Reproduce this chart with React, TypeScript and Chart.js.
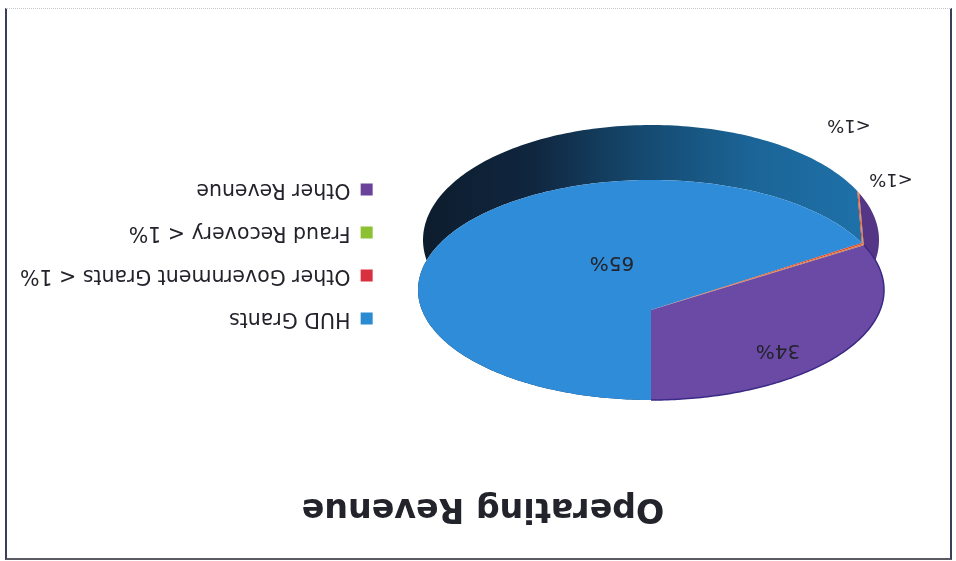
import React, { useEffect, useRef } from "react";
import { Chart, registerables } from "chart.js";

Chart.register(...registerables);

const categories = ["HUD Grants", "Other Government Grants < 1%", "Fraud Recovery < 1%", "Other Revenue"];
const values = [65, 0.15, 0.15, 34];
const valueLabels = ["65%", "<1%", "<1%", "34%"];
const legendColors = ["#2A8AD2", "#D9303F", "#8CC132", "#6A429C"];
const faceColors = ["#2F8CD8", "#E2482E", "#D9803A", "#6A4AA4"];

const FONT = "'DejaVu Sans', sans-serif";
const TEXT = "#23232b";
const labelSpots = [
  [344, 299, 20],
  [65, 382, 18],
  [107, 436, 18],
  [178, 211, 20],
];
const top3d = { cx: 305, cy: 271, rx: 233, ry: 110, apexY: 251 };
const base3d = { cx: 305, cy: 321, rx: 228, ry: 115 };

function rimPoints(start: number, end: number) {
  const k = (top3d.apexY - top3d.cy) / top3d.ry;
  const steps = Math.max(4, Math.ceil(((end - start) * 180) / Math.PI));
  const pts: number[][] = [];
  for (let i = 0; i <= steps; i++) {
    const a = start + ((end - start) * i) / steps;
    const x = Math.cos(a);
    const y = Math.sin(a);
    const d = 1 + k * y;
    pts.push([(x * Math.sqrt(1 - k * k)) / d, (y + k) / d]);
  }
  return pts;
}

const pie3d = {
  id: "pie3d",
  beforeDatasetDraw(chart: any) {
    const ctx = chart.ctx as CanvasRenderingContext2D;
    const arcs = chart.getDatasetMeta(0).data;
    ctx.save();
    // side wall
    arcs.forEach((arc: any, i: number) => {
      const pts = rimPoints(arc.startAngle, arc.endAngle);
      ctx.beginPath();
      pts.forEach(([x, y]) => ctx.lineTo(top3d.cx + x * top3d.rx, top3d.cy + y * top3d.ry));
      pts
        .slice()
        .reverse()
        .forEach(([x, y]) => ctx.lineTo(base3d.cx + x * base3d.rx, base3d.cy + y * base3d.ry));
      ctx.closePath();
      if (i === 0) {
        const g = ctx.createLinearGradient(530, 0, 100, 0);
        g.addColorStop(0, "#0D1D2E");
        g.addColorStop(0.25, "#10263F");
        g.addColorStop(0.5, "#15496F");
        g.addColorStop(0.75, "#1B6496");
        g.addColorStop(1, "#1E70A8");
        ctx.fillStyle = g;
      } else if (i === 3) {
        ctx.fillStyle = "#553585";
      } else {
        ctx.fillStyle = faceColors[i];
      }
      ctx.fill();
    });
    // top face
    arcs.forEach((arc: any, i: number) => {
      ctx.beginPath();
      ctx.moveTo(top3d.cx, top3d.apexY);
      rimPoints(arc.startAngle, arc.endAngle).forEach(([x, y]) =>
        ctx.lineTo(top3d.cx + x * top3d.rx, top3d.cy + y * top3d.ry)
      );
      ctx.closePath();
      ctx.fillStyle = faceColors[i];
      ctx.fill();
    });
    // dark rim seen along the purple slice
    ctx.beginPath();
    rimPoints(arcs[3].startAngle, arcs[3].endAngle).forEach(([x, y]) =>
      ctx.lineTo(top3d.cx + x * top3d.rx, top3d.cy + y * top3d.ry)
    );
    ctx.strokeStyle = "#3B2A86";
    ctx.lineWidth = 1.5;
    ctx.stroke();
    // value labels
    ctx.fillStyle = TEXT;
    ctx.textAlign = "center";
    ctx.textBaseline = "middle";
    valueLabels.forEach((t, i) => {
      ctx.font = `${labelSpots[i][2]}px ${FONT}`;
      ctx.fillText(t, labelSpots[i][0], labelSpots[i][1]);
    });
    ctx.restore();
    return false;
  },
};

export default function App() {
  const ref = useRef<HTMLCanvasElement | null>(null);
  useEffect(() => {
    if (!ref.current) return;
    const chart = new Chart(ref.current, {
      type: "pie",
      data: {
        labels: categories,
        datasets: [{ data: values, backgroundColor: legendColors, borderWidth: 0 }],
      },
      options: {
        responsive: false,
        animation: false,
        layout: { padding: { top: 8, right: 10, bottom: 40, left: 0 } },
        plugins: {
          tooltip: { enabled: false },
          title: {
            display: true,
            text: "Operating Revenue",
            color: TEXT,
            font: { family: FONT, size: 33.3, weight: "bold" },
            padding: { top: 25, bottom: 20 },
          },
          legend: {
            position: "right",
            fullSize: false,
            labels: {
              color: TEXT,
              font: { family: FONT, size: 20.5 },
              boxWidth: 12,
              boxHeight: 12,
              padding: 22.5,
            },
          },
        },
      },
      plugins: [pie3d],
    } as any);
    return () => chart.destroy();
  }, []);
  return (
    <div style={{ position: "absolute", left: 0, top: 0, width: 956, height: 561, background: "#fff", overflow: "hidden" }}>
      <div
        style={{
          position: "absolute",
          left: 5,
          top: 8,
          width: 943,
          height: 549,
          borderLeft: "2px solid #3A3F58",
          borderRight: "2px solid #3A3F58",
          borderBottom: "2px solid #5A5A62",
          borderTop: "1px dotted #C8C8C8",
        }}
      />
      <canvas
        ref={ref}
        width={956}
        height={561}
        style={{ position: "absolute", left: 0, top: 0, transform: "rotate(180deg)" }}
      />
    </div>
  );
}
